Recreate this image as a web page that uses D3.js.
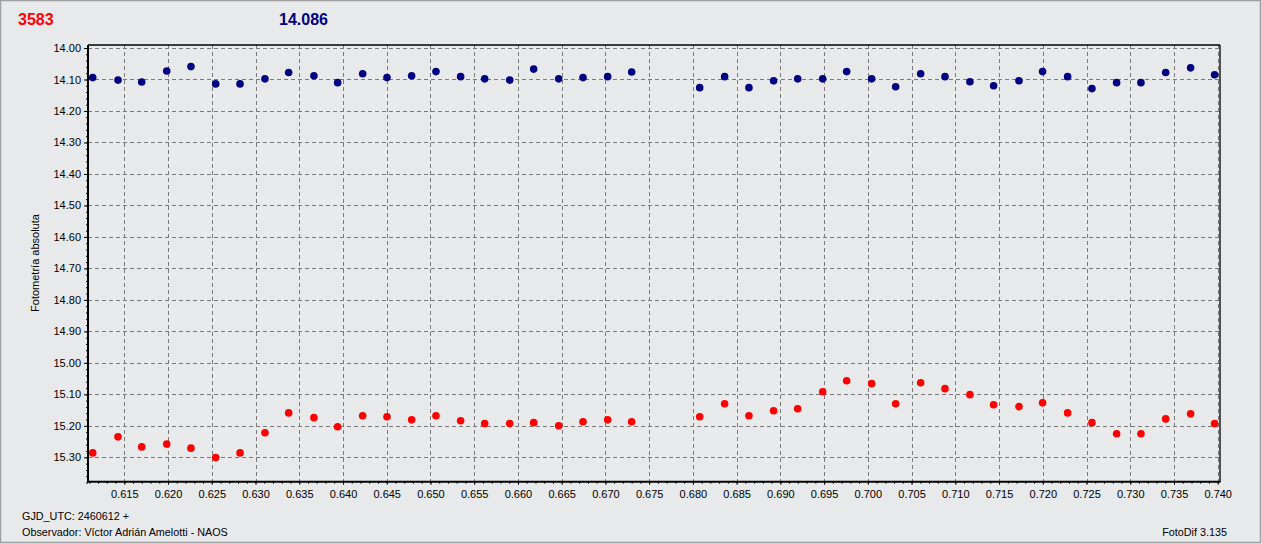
<!DOCTYPE html>
<html><head><meta charset="utf-8">
<script src="https://cdn.jsdelivr.net/npm/d3@7"></script>
<style>body{margin:0;background:#e8e9eb;}svg{display:block;font-family:"Liberation Sans",Arial,sans-serif;}</style>
</head><body><svg id="c" width="1262" height="544"></svg>
<script>
const jd = [0.61139,0.61428,0.61699,0.61985,0.62262,0.62545,0.62823,0.63108,0.63379,0.63668,0.63939,0.64225,0.64503,0.64785,0.65063,0.65345,0.65620,0.65906,0.66180,0.66466,0.66744,0.67026,0.67300,0.68078,0.68363,0.68641,0.68923,0.69198,0.69484,0.69758,0.70044,0.70318,0.70604,0.70882,0.71167,0.71438,0.71728,0.71998,0.72284,0.72562,0.72844,0.73122,0.73405,0.73690,0.73964];
const compMag = [14.094,14.102,14.108,14.073,14.059,14.114,14.114,14.098,14.078,14.088,14.110,14.082,14.094,14.088,14.075,14.091,14.098,14.102,14.067,14.098,14.094,14.091,14.076,14.126,14.091,14.126,14.104,14.098,14.098,14.075,14.098,14.123,14.082,14.091,14.107,14.120,14.104,14.075,14.091,14.129,14.110,14.110,14.078,14.063,14.085];
const varMag = [15.286,15.235,15.267,15.258,15.271,15.301,15.286,15.222,15.159,15.174,15.203,15.168,15.171,15.181,15.168,15.184,15.193,15.193,15.190,15.200,15.187,15.181,15.187,15.171,15.130,15.168,15.152,15.146,15.092,15.057,15.066,15.130,15.063,15.082,15.101,15.133,15.139,15.127,15.159,15.190,15.225,15.225,15.178,15.162,15.193];
const xTicks = [0.615,0.620,0.625,0.630,0.635,0.640,0.645,0.650,0.655,0.660,0.665,0.670,0.675,0.680,0.685,0.690,0.695,0.700,0.705,0.710,0.715,0.720,0.725,0.730,0.735,0.740];
const yTicks = [14.00,14.10,14.20,14.30,14.40,14.50,14.60,14.70,14.80,14.90,15.00,15.10,15.20,15.30];
const titleLeft = "3583", titleRight = "14.086";
const yTitle = "Fotometría absoluta";
const footer1 = "GJD_UTC: 2460612 +", footer2 = "Observador: Víctor Adrián Amelotti - NAOS", footer3 = "FotoDif 3.135";

const svg = d3.select("#c");
const L=88, R=1220, T=45, B=481.7;
const x = d3.scaleLinear().domain([0.61085,0.74026]).range([L,R]);
const y = d3.scaleLinear().domain([14.00,15.30]).range([48,457.3]);

// outer frame
svg.append("rect").attr("x",0.5).attr("y",0.5).attr("width",1260).attr("height",542).attr("fill","#e8e9eb").attr("stroke","#a0a0a0").attr("stroke-width",1.5);

// grid
const g = svg.append("g");
g.selectAll(".gx").data(xTicks).join("line").attr("x1",d=>Math.round(x(d))+0.5).attr("x2",d=>Math.round(x(d))+0.5)
 .attr("y1",T).attr("y2",B).attr("stroke","#7a7a7a").attr("stroke-dasharray","4,3");
g.selectAll(".gy").data(yTicks).join("line").attr("y1",d=>Math.round(y(d))+0.5).attr("y2",d=>Math.round(y(d))+0.5)
 .attr("x1",L).attr("x2",R).attr("stroke","#7a7a7a").attr("stroke-dasharray","4,3");

// axes
const yAxis = d3.axisLeft(y).tickValues(yTicks).tickFormat(d3.format(".2f")).tickSize(4).tickPadding(3);
svg.append("g").attr("transform",`translate(${L},0)`).call(yAxis);
const yMinor = d3.range(14.00,15.38,0.02);
svg.append("g").attr("transform",`translate(${L},0)`).call(d3.axisLeft(y).tickValues(yMinor).tickFormat("").tickSize(2)).select(".domain").remove();
const xAxis = d3.axisBottom(x).tickValues(xTicks).tickFormat(d3.format(".3f")).tickSize(3).tickPadding(6);
svg.append("g").attr("transform",`translate(0,${B})`).call(xAxis);
const xMinor = d3.range(0.611,0.7405,0.001);
svg.append("g").attr("transform",`translate(0,${B})`).call(d3.axisBottom(x).tickValues(xMinor).tickFormat("").tickSize(2)).select(".domain").remove();
svg.selectAll(".domain").remove();
svg.selectAll(".tick text").attr("font-size",11).attr("fill","#000").attr("font-family","'Liberation Sans',Arial,sans-serif");
svg.selectAll(".tick line").attr("stroke","#000");

// plot frame
svg.append("line").attr("x1",L).attr("x2",L).attr("y1",T).attr("y2",B).attr("stroke","#000").attr("stroke-width",2);
svg.append("line").attr("x1",L-1).attr("x2",R+0.5).attr("y1",B).attr("y2",B).attr("stroke","#000").attr("stroke-width",2);
svg.append("line").attr("x1",L).attr("x2",R).attr("y1",T).attr("y2",T).attr("stroke","#000").attr("stroke-width",1.3);
svg.append("line").attr("x1",R).attr("x2",R).attr("y1",T).attr("y2",B).attr("stroke","#000").attr("stroke-width",1.3);

// points
svg.append("g").selectAll("circle").data(jd.map((d,i)=>[d,compMag[i]])).join("circle")
 .attr("cx",d=>x(d[0])).attr("cy",d=>y(d[1])).attr("r",3.8).attr("fill","#000080");
svg.append("g").selectAll("circle").data(jd.map((d,i)=>[d,varMag[i]])).join("circle")
 .attr("cx",d=>x(d[0])).attr("cy",d=>y(d[1])).attr("r",3.8).attr("fill","#ff0000");

// titles
svg.append("text").attr("x",18).attr("y",25).attr("font-size",16).attr("font-weight","bold").attr("fill","#ff0000").text(titleLeft);
svg.append("text").attr("x",279).attr("y",25).attr("font-size",16).attr("font-weight","bold").attr("fill","#000080").text(titleRight);
svg.append("text").attr("transform","translate(39,263) rotate(-90)").attr("text-anchor","middle").attr("font-size",11).text(yTitle);
svg.append("text").attr("x",22).attr("y",520).attr("font-size",10.8).text(footer1);
svg.append("text").attr("x",22).attr("y",535.5).attr("font-size",10.8).text(footer2);
svg.append("text").attr("x",1227).attr("y",535.5).attr("text-anchor","end").attr("font-size",10.8).text(footer3);
</script></body></html>
